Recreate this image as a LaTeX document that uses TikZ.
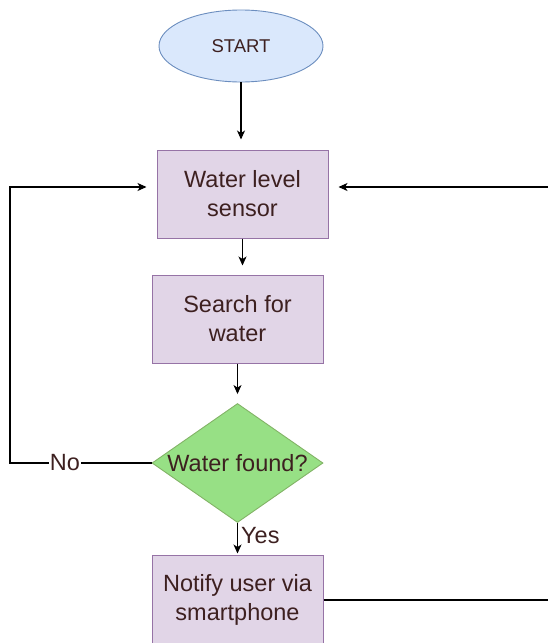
\documentclass[tikz,border=0pt]{standalone}
\usepackage{fontspec}
\setmainfont{Liberation Sans}
\usetikzlibrary{shapes.geometric,arrows.meta}
\definecolor{txtc}{HTML}{3D2020}
\definecolor{bluefill}{HTML}{DAE8FC}
\definecolor{bluedraw}{HTML}{6C8EBF}
\definecolor{purplefill}{HTML}{E1D5E7}
\definecolor{purpledraw}{HTML}{9673A6}
\definecolor{greenfill}{HTML}{97E085}
\definecolor{greendraw}{HTML}{82B366}
\tikzset{
  x=1pt, y=-1pt,
  txt/.style={text=txtc, font=\fontsize{23.5}{29}\selectfont, align=center},
  startbox/.style={ellipse, draw=bluedraw, fill=bluefill, line width=0.9pt, minimum width=164pt, minimum height=72pt, inner sep=0pt, text=txtc, font=\fontsize{18.5}{22}\selectfont},
  procbox/.style={rectangle, draw=purpledraw, fill=purplefill, line width=1pt, minimum width=171pt, minimum height=88pt, inner sep=0pt, txt},
  decbox/.style={diamond, draw=greendraw, fill=greenfill, line width=0.9pt, minimum width=171pt, minimum height=119pt, inner sep=0pt},
  conn/.style={draw=black, line width=1.1pt},
  arr/.style={conn, -{Stealth[length=9pt,width=8pt,inset=2.5pt]}},
  lbl/.style={txt, fill=white, inner sep=1pt}
}
\begin{document}
\begin{tikzpicture}
\useasboundingbox (0,0) rectangle (547,643);
\node[startbox] (start) at (241,46) {START};
\node[procbox] (sensor) at (242.5,194) {Water level\\sensor};
\node[procbox] (search) at (237.5,319) {Search for\\water};
\node[decbox, label={[txt]center:Water found?}] (found) at (237.5,463) {};
\node[procbox, minimum height=90pt] (notify) at (237.5,600) {Notify user via\\smartphone};

\coordinate (lc1) at (10,463);
\coordinate (lc2) at (10,187);
\coordinate (rc1) at (548.5,600);
\coordinate (rc2) at (548.5,187);

\draw[arr, shorten >=10pt] (start.south) -- (start.south |- sensor.north);
\draw[arr, shorten >=9pt] (sensor.south) -- (sensor.south |- search.north);
\draw[arr, shorten >=9pt] (search.south) -- (found.north);
\draw[arr, shorten >=1pt] (found.south) -- (notify.north);
\node[txt, anchor=west, inner sep=0pt] (yes) at (241,536) {Yes};
\draw[arr, shorten >=10pt] (found.west) -- (lc1) -- (lc2) -- (lc2 -| sensor.west);
\node[lbl] (no) at (65,463) {No};
\draw[arr, shorten >=10pt] (notify.east) -- (rc1) -- (rc2) -- (rc2 -| sensor.east);
\end{tikzpicture}
\end{document}
